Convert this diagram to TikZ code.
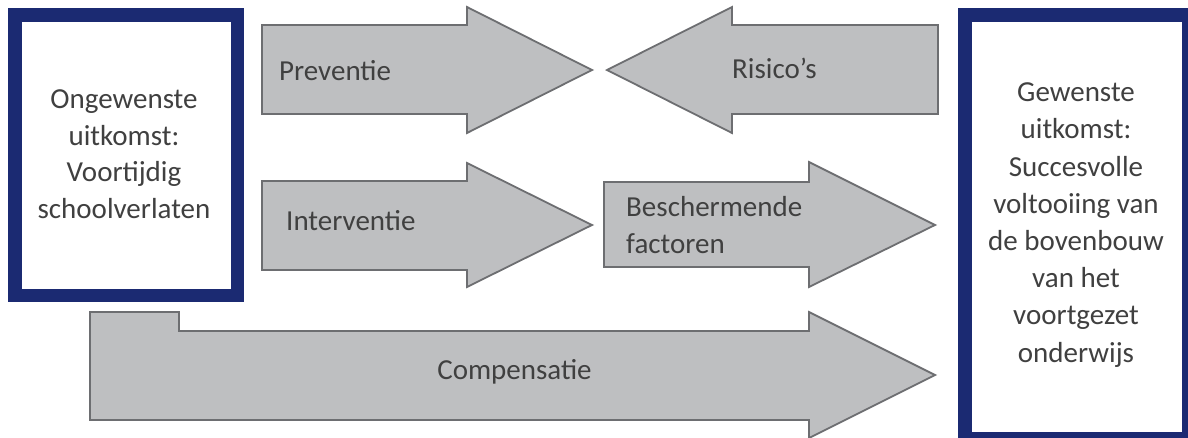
\documentclass[tikz,border=0pt]{standalone}
\usepackage{fontspec}
\setmainfont{Carlito}
\definecolor{navy}{HTML}{1B2A72}
\definecolor{arrowfill}{HTML}{BEBFC1}
\definecolor{arrowline}{HTML}{6D6E71}
\definecolor{txt}{HTML}{404040}
\begin{document}
\begin{tikzpicture}[x=1pt,y=-1pt,
  outbox/.style={draw=navy, line width=13.5pt, fill=white, rectangle, inner sep=0pt},
  arrowshape/.style={draw=arrowline, fill=arrowfill, line width=1.8pt, line join=miter},
  lbl/.style={inner sep=0pt, text=txt, font=\fontsize{29}{36.5}\selectfont},
  boxtext/.style={lbl, align=center}]
\useasboundingbox (0,0) rectangle (1188,437);
\clip (0,0) rectangle (1188,437);
\fill[white] (0,0) rectangle (1188,437);
% outcome boxes
\node[outbox, minimum width=222.5pt, minimum height=280.5pt] (bad) at (126,155) {};
\node[boxtext] (badtext) at (124,154) {Ongewenste\\uitkomst:\\Voortijdig\\schoolverlaten};
\node[outbox, minimum width=223.5pt, minimum height=423.5pt] (good) at (1076.5,226.5) {};
\node[boxtext, font=\fontsize{29}{37.2}\selectfont] (goodtext) at (1076,225) {Gewenste\\uitkomst:\\Succesvolle\\voltooiing van\\de bovenbouw\\van het\\voortgezet\\onderwijs};
% arrows
\draw[arrowshape] (262,25) -- (467,25) -- (467,7) -- (592,70) -- (467,133) -- (467,114) -- (262,114) -- cycle;
\node[lbl, anchor=base west] (prev) at (279,80) {Preventie};
\draw[arrowshape] (262,181) -- (467,181) -- (467,163) -- (592,225) -- (467,287) -- (467,270) -- (262,270) -- cycle;
\node[lbl, anchor=base west] (interv) at (286,230) {Interventie};
\draw[arrowshape] (938,25) -- (732,25) -- (732,7) -- (607,70) -- (732,133) -- (732,114) -- (938,114) -- cycle;
\node[lbl, anchor=base west] (risico) at (732,78) {Risico’s};
\draw[arrowshape] (604,182) -- (809,182) -- (809,162) -- (935,225) -- (809,287) -- (809,267) -- (604,267) -- cycle;
\node[lbl, align=left, anchor=west] (bescherm) at (626,225) {Beschermende\\factoren};
\draw[arrowshape] (90,312) -- (179,312) -- (179,331) -- (809,331) -- (809,312) -- (935,375) -- (809,438) -- (809,420) -- (90,420) -- cycle;
\node[lbl, anchor=base] (comp) at (514.5,379) {Compensatie};
\end{tikzpicture}
\end{document}
